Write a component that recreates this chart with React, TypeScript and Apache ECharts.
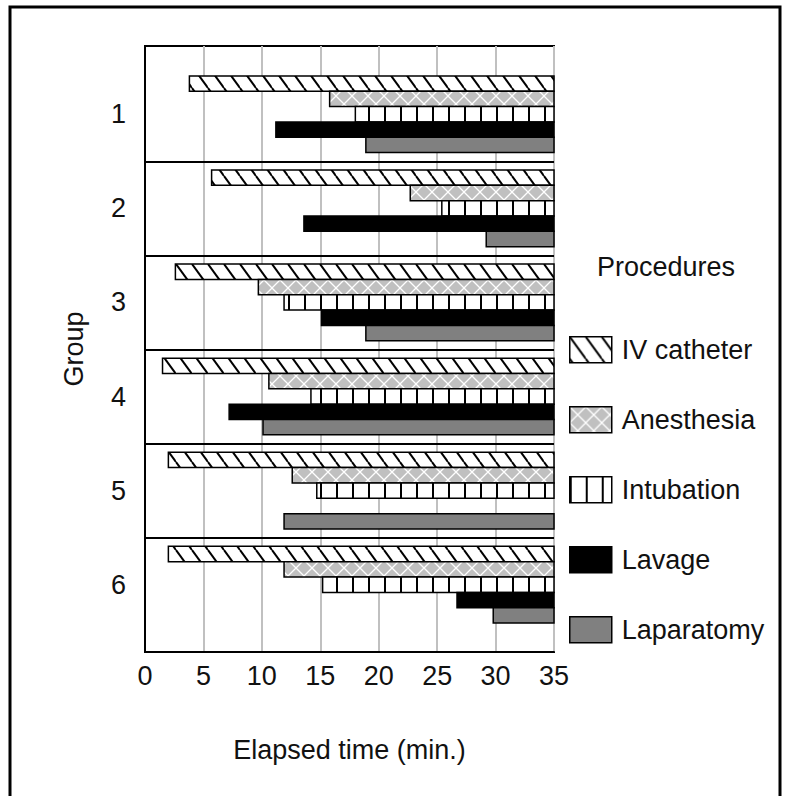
import React, { useEffect, useRef } from "react";
import * as echarts from "echarts";

// ---- data ----
const groups = ["1", "2", "3", "4", "5", "6"];
const groupPositions = [1, 2, 3, 4, 5, 6];
const separators = [1.5, 2.5, 3.5, 4.5, 5.5];
const procedures = ["IV catheter", "Anesthesia", "Intubation", "Lavage", "Laparatomy"];
const END_TIME = 35;
// start times (minutes) per group 1..6; null = not performed
const ivCatheter = [3.8, 5.7, 2.6, 1.5, 2.0, 2.0];
const anesthesia = [15.8, 22.7, 9.7, 10.6, 12.6, 11.9];
const intubation = [18.0, 25.4, 11.9, 14.2, 14.7, 15.2];
const lavage = [11.2, 13.6, 15.1, 7.2, null, 26.7];
const laparatomy = [18.9, 29.2, 18.9, 10.1, 11.9, 29.8];
const xTicks = [0, 5, 10, 15, 20, 25, 30, 35];

const starts = [ivCatheter, anesthesia, intubation, lavage, laparatomy];

const FONT = '"Liberation Sans", Arial, Helvetica, sans-serif';
const BAR_FRAC = 0.163;

function makePattern(w: number, h: number, draw: (ctx: CanvasRenderingContext2D) => void) {
  const c = document.createElement("canvas");
  c.width = w;
  c.height = h;
  const ctx = c.getContext("2d")!;
  draw(ctx);
  return { image: c, repeat: "repeat", imageWidth: w, imageHeight: h } as any;
}

export default function App() {
  const ref = useRef<HTMLDivElement>(null);
  useEffect(() => {
    if (!ref.current) return;
    const chart = echarts.init(ref.current, undefined, { renderer: "svg" });

    const ivPat = makePattern(16, 22, (ctx) => {
      ctx.fillStyle = "#fff";
      ctx.fillRect(0, 0, 16, 22);
      ctx.strokeStyle = "#000";
      ctx.lineWidth = 2;
      for (const o of [-16, 0, 16]) {
        ctx.beginPath();
        ctx.moveTo(o, 0);
        ctx.lineTo(o + 16, 22);
        ctx.stroke();
      }
    });
    const anPat = makePattern(16, 16, (ctx) => {
      ctx.fillStyle = "#c0c0c0";
      ctx.fillRect(0, 0, 16, 16);
      ctx.strokeStyle = "#fff";
      ctx.lineWidth = 1.3;
      ctx.beginPath();
      ctx.moveTo(0, 0);
      ctx.lineTo(16, 16);
      ctx.moveTo(16, 0);
      ctx.lineTo(0, 16);
      ctx.stroke();
    });
    const inPat = makePattern(16, 16, (ctx) => {
      ctx.fillStyle = "#fff";
      ctx.fillRect(0, 0, 16, 16);
      ctx.fillStyle = "#000";
      ctx.fillRect(0, 0, 2, 16);
    });
    const fills: any[] = [ivPat, anPat, inPat, "#000000", "#808080"];

    const series: any[] = procedures.map((name, k) => {
      const data: any[] = [];
      starts[k].forEach((s, gi) => {
        if (s != null) data.push([s, END_TIME, groupPositions[gi], k]);
      });
      const s: any = {
        name,
        type: "custom",
        encode: { x: [0, 1], y: 2 },
        itemStyle: { color: fills[k], borderColor: "#000", borderWidth: 1.5 },
        data,
        renderItem: (params: any, api: any) => {
          const start = api.value(0);
          const end = api.value(1);
          const g = api.value(2);
          const slot = api.value(3);
          const p0 = api.coord([start, g]);
          const p1 = api.coord([end, g]);
          const unit = Math.abs(api.size([0, 1])[1]);
          const h = unit * BAR_FRAC;
          const y = p0[1] + (slot - 2) * h - h / 2;
          return {
            type: "rect",
            shape: { x: p0[0], y, width: p1[0] - p0[0], height: h },
            style: { fill: fills[slot], stroke: "#000", lineWidth: 1.5 },
          };
        },
      };
      if (k === 0) {
        s.markLine = {
          silent: true,
          symbol: "none",
          label: { show: false },
          lineStyle: { color: "#000", width: 2, type: "solid" },
          data: separators.map((v) => ({ yAxis: v })),
        };
      }
      return s;
    });

    const txt = { fontFamily: FONT, fontSize: 27, color: "#111" };

    chart.setOption({
      animation: false,
      backgroundColor: "#fff",
      title: {
        text: "Procedures",
        left: 597,
        top: 253,
        padding: 0,
        textStyle: { ...txt, fontWeight: "normal" },
      },
      legend: {
        orient: "vertical",
        left: 569,
        top: 336,
        padding: 0,
        itemWidth: 42,
        itemHeight: 26,
        itemGap: 42.5,
        icon: "rect",
        selectedMode: false,
        data: procedures,
        itemStyle: { borderColor: "#000", borderWidth: 1.5 },
        textStyle: { ...txt, lineHeight: 26, padding: [0, 0, 0, 5] },
      },
      graphic: [
        {
          type: "rect",
          silent: true,
          z: -10,
          shape: { x: 10, y: 7, width: 770, height: 800 },
          style: { fill: "none", stroke: "#000", lineWidth: 3 },
        },
      ],
      grid: {
        left: 145,
        top: 46,
        width: 409,
        height: 606,
        show: true,
        borderColor: "#000",
        borderWidth: 2,
        backgroundColor: "transparent",
      },
      xAxis: {
        type: "value",
        min: xTicks[0],
        max: xTicks[xTicks.length - 1],
        interval: 5,
        name: "Elapsed time (min.)",
        nameLocation: "middle",
        nameGap: 84,
        nameTextStyle: txt,
        axisLine: { show: true, lineStyle: { color: "#000", width: 2 } },
        axisTick: { show: false },
        axisLabel: { ...txt, margin: 10 },
        splitLine: { show: true, lineStyle: { color: "#c0c0c0", width: 2 } },
      },
      yAxis: {
        type: "value",
        inverse: true,
        min: 0.275,
        max: 6.715,
        name: "Group",
        nameLocation: "middle",
        nameRotate: 90,
        nameGap: 58,
        nameTextStyle: txt,
        axisLine: { show: true, lineStyle: { color: "#000", width: 2 } },
        axisTick: { show: false },
        splitLine: { show: false },
        axisLabel: {
          ...txt,
          margin: 19,
          customValues: groupPositions,
          formatter: (v: number) => groups[Math.round(v) - 1] ?? "",
        },
      },
      series,
    });
    return () => chart.dispose();
  }, []);
  return (
    <div
      ref={ref}
      style={{ position: "absolute", left: 0, top: 0, width: 786, height: 796, background: "#fff" }}
    />
  );
}
